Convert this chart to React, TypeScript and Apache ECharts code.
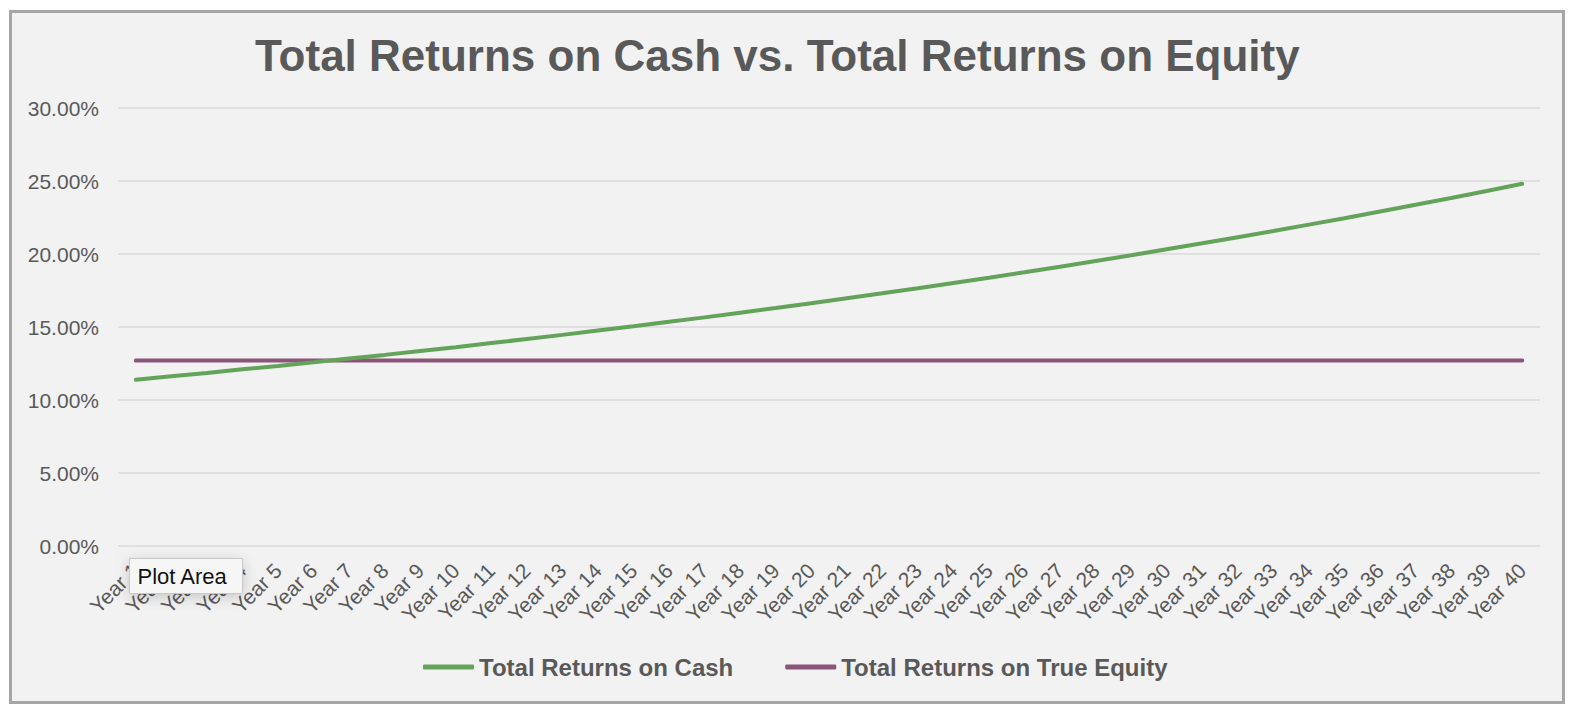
import React, { useEffect, useRef } from "react";
import * as echarts from "echarts";

const categories: string[] = Array.from({ length: 40 }, (_, i) => `Year ${i + 1}`);

const cashReturns: number[] = [
  11.38, 11.62, 11.85, 12.1, 12.33, 12.58, 12.84, 13.09, 13.36, 13.62,
  13.9, 14.18, 14.46, 14.76, 15.05, 15.36, 15.66, 15.98, 16.3, 16.63,
  16.97, 17.31, 17.66, 18.02, 18.38, 18.75, 19.13, 19.52, 19.91, 20.32,
  20.73, 21.15, 21.57, 22.01, 22.45, 22.91, 23.37, 23.84, 24.32, 24.81,
];

const equityReturns: number[] = categories.map(() => 12.7);

const seriesNames: string[] = ["Total Returns on Cash", "Total Returns on True Equity"];
const titleText = "Total Returns on Cash vs. Total Returns on Equity";
const yMin = 0;
const yMax = 30;
const yInterval = 5;

const FONT = "'Liberation Sans', Arial, Helvetica, sans-serif";
const TEXT = "#595959";

export default function App() {
  const ref = useRef<HTMLDivElement>(null);

  useEffect(() => {
    if (!ref.current) return;
    const chart = echarts.init(ref.current, undefined, { renderer: "svg" });
    chart.setOption({
      animation: false,
      backgroundColor: "#ffffff",
      title: {
        text: titleText,
        left: 250,
        top: 28,
        textStyle: { fontFamily: FONT, fontSize: 44, fontWeight: "bold", color: TEXT },
      },
      graphic: [
        {
          type: "rect",
          z: -10,
          silent: true,
          shape: { x: 10.5, y: 11.5, width: 1553, height: 691 },
          style: { fill: "#f2f2f2", stroke: "#a6a6a6", lineWidth: 3 },
        },
        {
          type: "group",
          z: 100,
          left: 129,
          top: 558,
          children: [
            {
              type: "rect",
              z: 100,
              shape: { x: 0, y: 0, width: 113, height: 35 },
              style: {
                fill: "#f6f6f6",
                stroke: "#c8c8c8",
                lineWidth: 1,
                shadowBlur: 14,
                shadowColor: "rgba(0,0,0,0.18)",
                shadowOffsetY: 3,
              },
            },
            {
              type: "text",
              z: 101,
              x: 8,
              y: 17.5,
              style: {
                text: "Plot Area",
                fontFamily: FONT,
                fontSize: 22,
                fill: "#111111",
                verticalAlign: "middle",
              },
            },
          ],
        },
      ],
      legend: {
        left: 418,
        top: 650,
        icon: "roundRect",
        itemWidth: 51,
        itemHeight: 5,
        itemGap: 52,
        textStyle: { fontFamily: FONT, fontSize: 24, fontWeight: "bold", color: TEXT },
        data: seriesNames,
      },
      grid: {
        left: 118,
        right: 36,
        top: 108,
        bottom: 166,
        containLabel: false,
        outerBoundsMode: "none",
      },
      xAxis: {
        type: "category",
        data: categories,
        boundaryGap: true,
        axisLine: { show: false },
        axisTick: { show: false },
        axisLabel: {
          interval: 0,
          rotate: 45,
          margin: 21,
          fontFamily: FONT,
          fontSize: 21,
          color: TEXT,
        },
      },
      yAxis: {
        type: "value",
        min: yMin,
        max: yMax,
        interval: yInterval,
        axisLine: { show: false },
        axisTick: { show: false },
        splitLine: { lineStyle: { color: "#d9d9d9", width: 1.5 } },
        axisLabel: {
          margin: 19,
          fontFamily: FONT,
          fontSize: 21,
          color: TEXT,
          formatter: (v: number) => v.toFixed(2) + "%",
        },
      },
      series: [
        {
          name: seriesNames[0],
          type: "line",
          data: cashReturns,
          symbol: "none",
          smooth: false,
          z: 3,
          lineStyle: { color: "#63a35a", width: 4, cap: "round" },
          itemStyle: { color: "#63a35a" },
        },
        {
          name: seriesNames[1],
          type: "line",
          data: equityReturns,
          symbol: "none",
          z: 2,
          lineStyle: { color: "#8a5579", width: 4, cap: "round" },
          itemStyle: { color: "#8a5579" },
        },
      ],
    });
    return () => chart.dispose();
  }, []);

  return (
    <div
      ref={ref}
      style={{ position: "fixed", left: 0, top: 0, width: 1576, height: 712 }}
    />
  );
}
